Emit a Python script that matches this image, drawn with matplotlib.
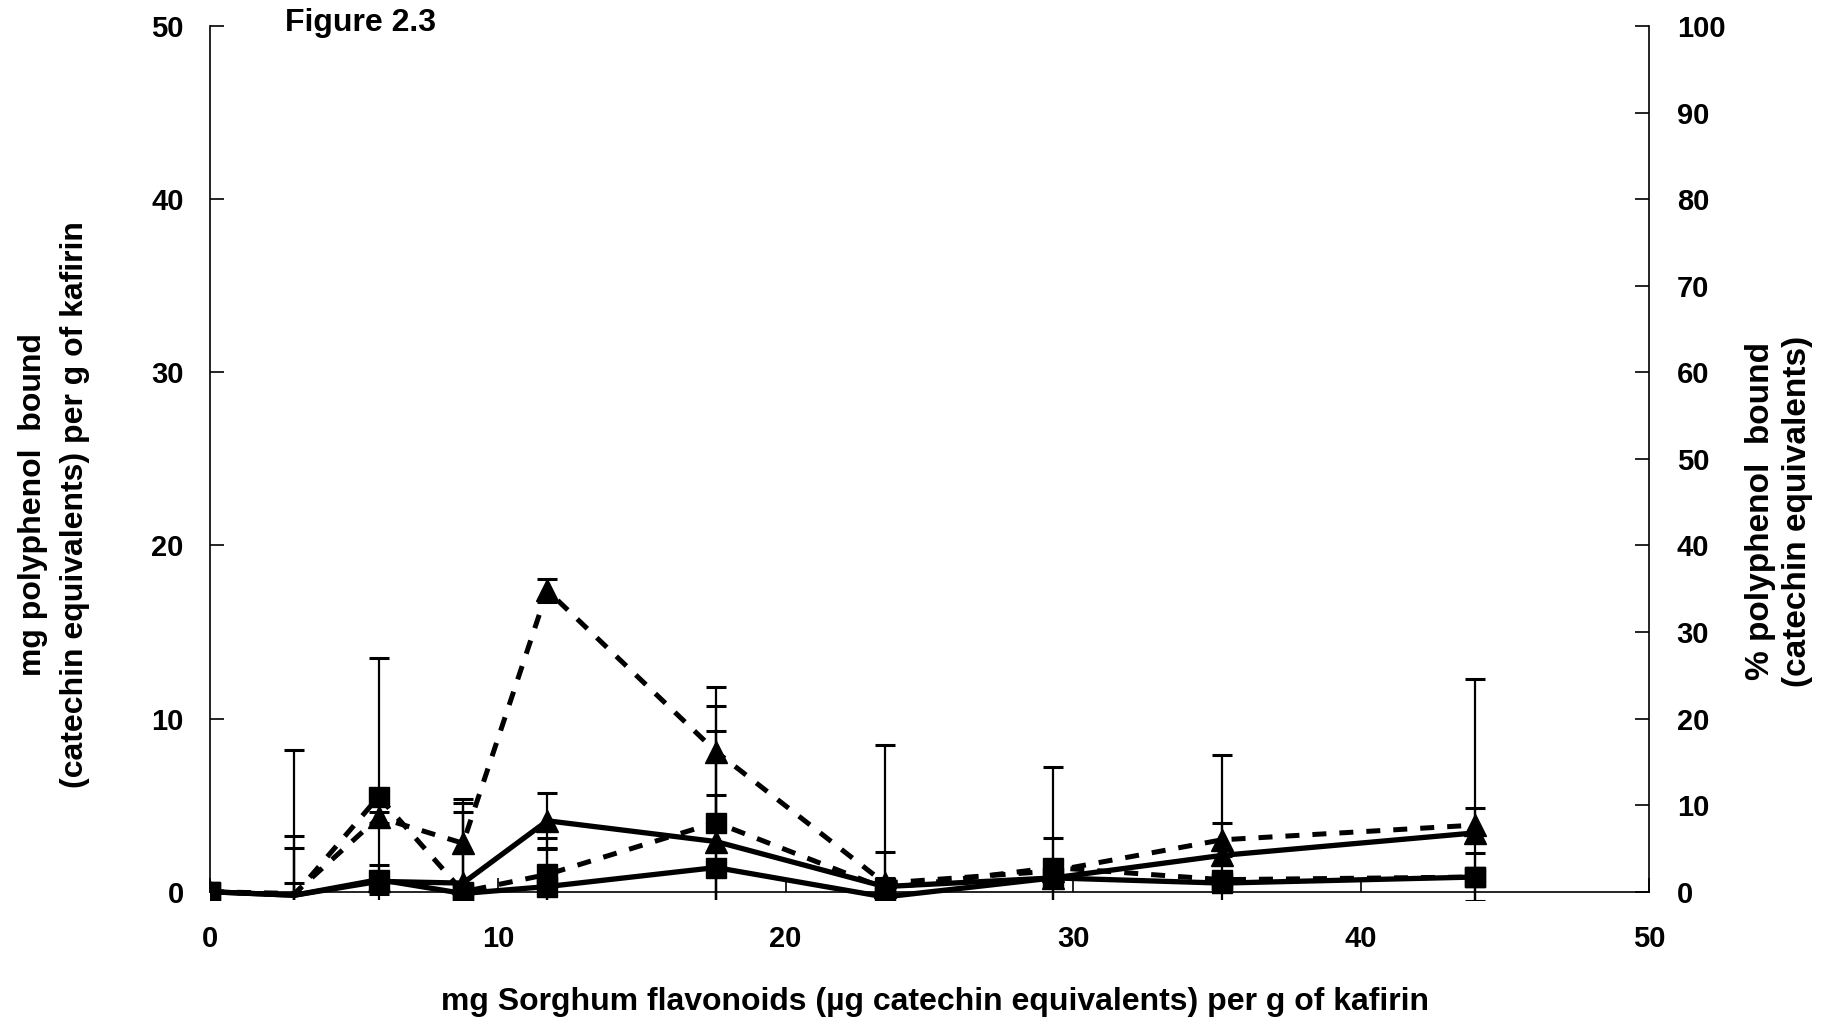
import numpy as np
import matplotlib
matplotlib.use("Agg")
import matplotlib.pyplot as plt

plt.rcParams['font.family'] = ['Liberation Sans', 'DejaVu Sans']
plt.rcParams['font.weight'] = 'bold'

x = [0, 2.93, 5.86, 8.79, 11.72, 17.58, 23.44, 29.3, 35.16, 43.95]

# mg bound, left axis
mg_tri = [0, -0.2, 0.6, 0.5, 4.1, 2.9, 0.3, 0.8, 2.1, 3.4]
mg_tri_err = [0, 3.4, 0.3, 4.1, 1.6, 6.4, 8.2, 2.3, 5.8, 8.9]
mg_sq = [0, -0.2, 0.7, -0.1, 0.3, 1.4, -0.3, 0.8, 0.5, 0.85]
mg_sq_err = [0, 0.7, 0.85, 5.2, 2.15, 4.2, 2.6, 0.4, 0.5, 1.4]

# % bound, right axis
pc_tri = [0, -0.2, 8.6, 5.6, 34.8, 16.2, 1.0, 2.4, 6.0, 7.7]
pc_tri_err = [0, 5.2, 0.6, 5.1, 1.3, 7.4, 0.6, 0.6, 1.9, 2.0]
pc_sq = [0, -0.4, 11.0, 0.0, 2.0, 8.0, 0.4, 2.8, 1.4, 1.7]
pc_sq_err = [0, 16.8, 16.0, 0.6, 4.2, 13.4, 0.6, 11.6, 0.8, 0.8]

xticks = [0, 10, 20, 30, 40, 50]
lticks = [0, 10, 20, 30, 40, 50]
rticks = [0, 10, 20, 30, 40, 50, 60, 70, 80, 90, 100]

fig = plt.figure(figsize=(18.33, 10.21), dpi=100)
ax = fig.add_axes([0.1146, 0.1181, 0.785, 0.8564])
ax2 = ax.twinx()

marks = [0, 2, 3, 4, 5, 6, 7, 8, 9]
ebkw = dict(fmt='none', ecolor='black', elinewidth=1.6, capsize=7, capthick=2.2)

ax.errorbar(x, mg_tri, yerr=mg_tri_err, **ebkw)
ax.errorbar(x, mg_sq, yerr=mg_sq_err, **ebkw)
ax2.errorbar(x, pc_tri, yerr=pc_tri_err, **ebkw)
ax2.errorbar(x, pc_sq, yerr=pc_sq_err, **ebkw)

ax.plot(x, mg_tri, color='black', lw=3.8, marker='^', ms=16, markevery=marks)
ax.plot(x, mg_sq, color='black', lw=3.8, marker='s', ms=15, markevery=marks)
ax2.plot(x, pc_tri, color='black', lw=3.6, ls=(0, (2.8, 2.6)), marker='^', ms=16, markevery=marks)
ax2.plot(x, pc_sq, color='black', lw=3.6, ls=(0, (2.8, 2.6)), marker='s', ms=15, markevery=marks)

ax.set_xlim(0, 50)
ax.set_ylim(-0.5, 50)
ax2.set_ylim(-1, 100)

ax.set_xticks(xticks)
ax.set_yticks(lticks)
ax2.set_yticks(rticks)

for a in (ax, ax2):
    a.spines['top'].set_visible(False)
    a.patch.set_visible(False)
ax.spines['right'].set_visible(False)
ax2.spines['left'].set_visible(False)
ax2.spines['bottom'].set_visible(False)
ax.spines['bottom'].set_position(('data', 0))
ax.spines['left'].set_bounds(0, 50)
ax2.spines['right'].set_bounds(0, 100)
for s in ('bottom', 'left'):
    ax.spines[s].set_linewidth(1.2)
ax2.spines['right'].set_linewidth(1.2)

ax.tick_params(axis='x', direction='in', length=10, width=1.2, pad=24, labelsize=21)
ax.tick_params(axis='y', direction='in', length=10, width=1.2, pad=19, labelsize=21)
ax2.tick_params(axis='y', direction='in', length=10, width=1.2, pad=20, labelsize=21)

fig.text(285 / 1833, 1 - 23 / 1021, 'Figure 2.3', fontsize=23, fontweight='bold',
         ha='left', va='center')

fig.text(54 / 1833, 1 - 505 / 1021,
         'mg polyphenol  bound\n(catechin equivalents) per g of kafirin',
         rotation=90, fontsize=23, fontweight='bold', ha='center', va='center',
         multialignment='center', linespacing=1.5)
fig.text(1779 / 1833, 1 - 511 / 1021,
         '% polyphenol  bound\n(catechin equivalents)',
         rotation=90, fontsize=24, fontweight='bold', ha='center', va='center',
         multialignment='center', linespacing=1.25)
fig.text(935 / 1833, 1 - 1002 / 1021,
         'mg Sorghum flavonoids (\u00b5g catechin equivalents) per g of kafirin',
         fontsize=23, fontweight='bold', ha='center', va='center')

fig.savefig('out.png', dpi=100)
